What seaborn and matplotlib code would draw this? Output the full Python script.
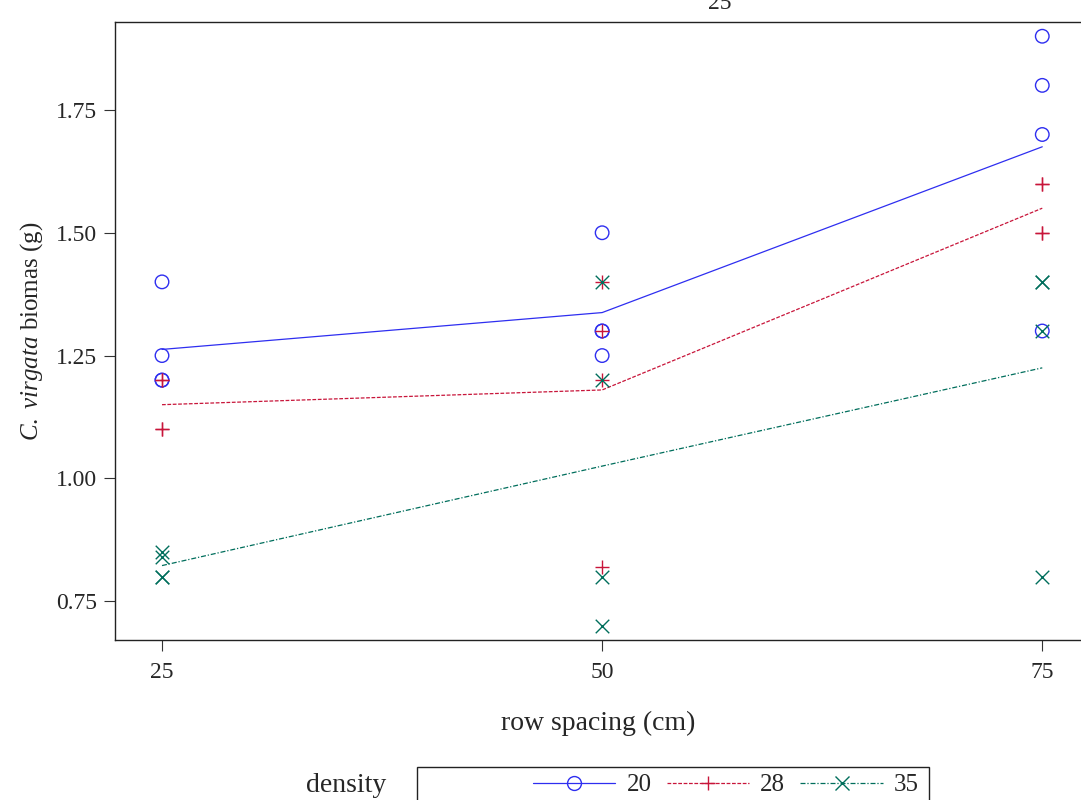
import numpy as np
import pandas as pd
import matplotlib
matplotlib.use("Agg")
import matplotlib.pyplot as plt
import seaborn as sns
from matplotlib.lines import Line2D
from matplotlib.patches import Rectangle

# ---- data ----
spacing_levels = [25, 50, 75]
density_levels = ["20", "28", "35"]
biomass_20 = {25: [1.40, 1.25, 1.20, 1.20], 50: [1.50, 1.30, 1.30, 1.25], 75: [1.90, 1.80, 1.70, 1.30]}
biomass_28 = {25: [1.20, 1.20, 1.10, 1.10], 50: [1.40, 1.30, 1.20, 0.82], 75: [1.60, 1.60, 1.50, 1.50]}
biomass_35 = {25: [0.85, 0.84, 0.80, 0.80], 50: [1.40, 1.20, 0.80, 0.70], 75: [1.40, 1.40, 1.30, 0.80]}
x_ticks = [25, 50, 75]
y_ticks = [0.75, 1.00, 1.25, 1.50, 1.75]
y_ticklabels = ["0.75", "1.00", "1.25", "1.50", "1.75"]

rows = []
for dens, table in zip(density_levels, [biomass_20, biomass_28, biomass_35]):
    for sp in spacing_levels:
        for v in table[sp]:
            rows.append({"spacing": sp, "density": dens, "biomass": v})
df = pd.DataFrame(rows)

colors = {"20": "#2E2EF0", "28": "#C8153A", "35": "#006E5C"}
markers = {"20": "o", "28": "+", "35": "x"}
dashes = {"20": "", "28": (3, 1.3), "35": (4, 1.5, 1, 1.5)}

sns.set_theme(style="ticks")
plt.rcParams["font.family"] = ["Liberation Serif", "DejaVu Serif"]
plt.rcParams["mathtext.fontset"] = "custom"
plt.rcParams["mathtext.it"] = "Liberation Serif:italic"
plt.rcParams["mathtext.rm"] = "Liberation Serif"

fig = plt.figure(figsize=(10.81, 8.0), dpi=100)
ax = fig.add_axes([115 / 1081, 0.2, 1 - 115 / 1081, (640 - 22) / 800])

sns.lineplot(data=df, x="spacing", y="biomass", hue="density", style="density",
             estimator="mean", errorbar=None, palette=colors, dashes=dashes,
             linewidth=0.9, legend=False, ax=ax)

for dens in density_levels:
    sub = df[df["density"] == dens]
    if markers[dens] == "o":
        sns.scatterplot(data=sub, x="spacing", y="biomass", marker="o", s=95,
                        facecolor="none", edgecolor=colors[dens], linewidth=1.0,
                        legend=False, ax=ax, zorder=3)
    else:
        sns.scatterplot(data=sub, x="spacing", y="biomass", marker=markers[dens], s=95,
                        color=colors[dens], linewidth=1.0, legend=False, ax=ax, zorder=3)

ax.set_xlim(22.33, 77.2)
ax.set_ylim(0.671, 1.929)
ax.set_xticks(x_ticks)
ax.set_xticklabels([str(t) for t in x_ticks])
ax.set_yticks(y_ticks)
ax.set_yticklabels(y_ticklabels)
ax.tick_params(axis="both", labelsize=17, length=8, width=0.8, color="#333333")
ax.tick_params(axis="x", pad=8)
ax.tick_params(axis="y", pad=5)
ax.spines["right"].set_visible(False)
for s in ["left", "top", "bottom"]:
    ax.spines[s].set_color("#222222")
    ax.spines[s].set_linewidth(1.0)
ax.set_xlabel("row spacing (cm)", fontsize=20, labelpad=20)
ax.set_ylabel(r"$\it{C.\ virgata}$ biomas (g)", fontsize=18, labelpad=8)

# top label (cut off in the reference)
fig.text(720 / 1081, 1 - 9 / 800, "25", ha="center", va="baseline", fontsize=17)

# legend
fig.text(346 / 1081, 1 - 785 / 800, "density", ha="center", va="center", fontsize=20)
fig.patches.append(Rectangle((417 / 1081, -0.05), (929 - 417) / 1081, 0.05 + (800 - 767) / 800,
                             transform=fig.transFigure, fill=False, edgecolor="#222222",
                             linewidth=1.0))
handles = []
for dens in density_levels:
    ls = "-" if dens == "20" else (0, dashes[dens])
    h = Line2D([0], [0], color=colors[dens], linestyle=ls, linewidth=0.9,
               marker=markers[dens], markersize=10,
               markerfacecolor="none", markeredgecolor=colors[dens], markeredgewidth=1.0)
    handles.append(h)
fig.legend(handles, density_levels, ncol=3, loc="center right",
           bbox_to_anchor=(919 / 1081, 1 - 785 / 800), frameon=False, fontsize=18,
           handlelength=3.3, handletextpad=0.45, columnspacing=0.6, borderaxespad=0,
           borderpad=0)

fig.savefig("out.png", dpi=100)
